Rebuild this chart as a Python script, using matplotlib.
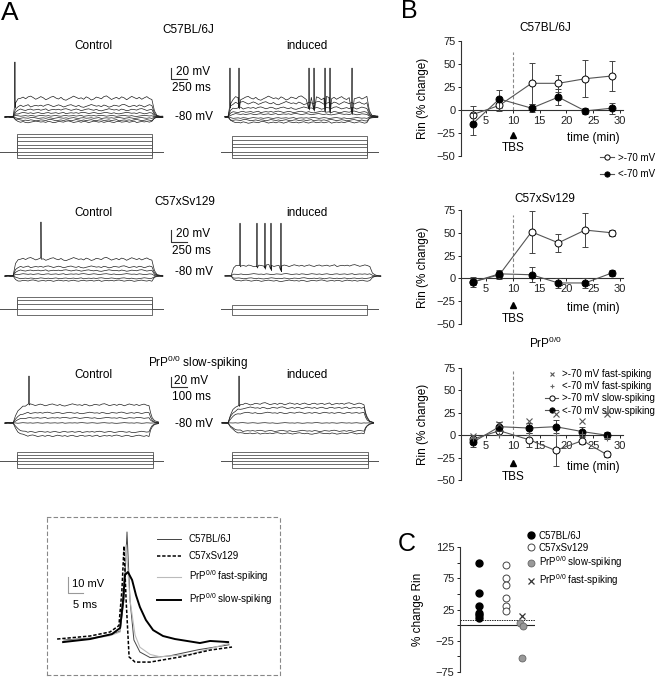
import numpy as np
import matplotlib
matplotlib.use('Agg')
import matplotlib.pyplot as plt

W, H = 657, 677
plt.rcParams['font.family'] = ['Liberation Sans', 'DejaVu Sans']
plt.rcParams['mathtext.default'] = 'regular'

# ---------------- Panel B data (Rin % change vs time) ----------------
b_time = [2.5, 7.5, 13.5, 18.5, 23.5, 28.5]
b1_above = [-5, 5, 29, 29, 34, 37]
b1_above_err = [9, 6, 22, 9, 20, 16]
b1_below = [-15, 12, 2, 14, -1, 2]
b1_below_err = [12, 10, 4, 9, 3, 6]
b2_above = [-4, 4, 51, 39, 53, 50]
b2_above_err = [5, 5, 23, 10, 19, 3]
b2_below = [-4, 5, 4, -5, -5, 6]
b2_below_err = [3, 3, 8, 5, 5, 3]
b3_time = [2.5, 7.5, 13, 18, 23, 27.5]
b3_fast_above = [-1, 12.5, 16, 24, 16, 24]
b3_fast_below = [-3, 0, 0, 0, 1, -3]
b3_slow_above = [-4.5, 5, -5, -17, -6, -21.5]
b3_slow_above_err = [5, 5, 8, 17, 4, 3]
b3_slow_below = [-8, 9.5, 8, 9.5, 4, 0]
b3_slow_below_err = [5, 5, 6, 7, 5, 4]
b_ticks_x = [5, 10, 15, 20, 25, 30]
b_ticks_y = [-50, -25, 0, 25, 50, 75]
tbs_time = 10

# ---------------- Panel C data ----------------
c_labels = ['C57BL/6J', 'C57xSv129', 'PrP$^{0/0}$ slow-spiking', 'PrP$^{0/0}$ fast-spiking']
c_bl6 = [99, 52, 30, 20, 16, 12]
c_sv129 = [97, 75, 64, 43, 30, 22]
c_prp_slow = [3, -2, -53]
c_prp_fast = [14]
c_dotted = 8

# ---------------- Panel A data ----------------
# steady-state deflections (mV from -80 mV), spike times (ms from step onset), spike peaks (mV)
a1_ctrl_levels = [34, 20, 13, 7, 2, -2, -6, -9]
a1_ind_levels = [34, 25, 16, 9, 5, -2, -6, -10]
a1_ctrl_spikes = [30]
a1_ind_spikes = [31, 172, 1266, 1344, 1516, 1594, 1938]
a1_ctrl_peak, a1_ind_peak = 20, 9
a1_ctrl_current = [250, 200, 150, 100, 50, 0, -40, -80]
a1_ind_current = [215, 160, 110, 65, 0, -40, -80]

a2_ctrl_levels = [28, 15, 9, 3, -4, -8]
a2_ind_levels = [17, 3, -4, -8]
a2_ctrl_spikes = [437]
a2_ind_spikes = [141, 406, 531, 625, 781]
a2_ctrl_peak, a2_ind_peak = 10, 8
a2_ctrl_current = [160, 120, 70, 0, -80]
a2_ind_current = [55, 0, -80]

a3_ctrl_levels = [36, 20, 10, 0, -18, -26]
a3_ind_levels = [38, 30, 20, 0, -16, -21]
a3_ctrl_spikes = [100]
a3_ind_spikes = [69]
a3_ctrl_peak, a3_ind_peak = 14, 14
a3_ctrl_current = [120, 80, 40, 0, -40, -95]
a3_ind_current = [120, 80, 40, 0, -40, -95]

# recorded membrane fluctuation template (mV, normalised)
wig = [0.0, 0.5, -0.2, 0.6, 0.9, 0.3, -0.4, 0.1, 0.7, 0.2, -0.6, -0.1,
       0.5, 0.8, 0.1, -0.3, 0.4, -0.5, -0.8, -0.2, 0.3, 0.9, 0.4, -0.1,
       0.2, -0.4, 0.6, 0.1, -0.7, -0.3, 0.5, 0.2, -0.2, 0.7, 1.0, 0.3,
       -0.5, 0.0, 0.4, -0.3, 0.6, 0.2, -0.6, 0.1, 0.8, 0.3, -0.2, 0.4,
       -0.4, 0.2, 0.7, -0.1, -0.5, 0.3, 0.6, -0.2, 0.1, 0.5, -0.3, 0.2,
       0.8, -0.6, 0.0, 0.4]
charge_fast = [0.0, 0.75, 0.92, 1.0]
charge_slow = [0.0, 0.4, 0.65, 0.8, 0.9, 0.95, 1.0]
tail_fast_t, tail_fast_f = [0, 40, 80, 130, 170], [1.0, 0.3, 0.1, 0.03, 0.0]
tail_slow_t, tail_slow_f = [0, 10, 20, 35, 60], [1.0, 0.55, 0.3, 0.12, 0.03]

# spike waveform inset (ms, mV)
sp_bl6_t = [-21, -12, -6, -2.3, -1, 0, 1, 2.3, 4.3, 7.7, 14, 24, 34]
sp_bl6_v = [-60, -58.8, -57, -54.5, -35, 7.5, -35, -60, -67.5, -71, -70, -66, -63]
sp_sv_t = [-23.3, -12.3, -5.7, -2.7, -1.7, -1, -0.3, 0.7, 2.7, 7.7, 17.7, 27.7, 35]
sp_sv_v = [-59.4, -57.5, -55, -51, -29, -1.3, -35, -70.6, -73.8, -73.8, -70.6, -66.3, -64.4]
sp_fast_t = [-21, -12, -6, -2.3, -1.2, -0.3, 1, 2.7, 4.3, 7.7, 11, 21, 34]
sp_fast_v = [-60.5, -59, -57.5, -55, -30, -0.6, -35, -57, -64.5, -69, -70.5, -69, -62]
sp_slow_t = [-21.3, -12.3, -5, -2.3, -1.3, -0.7, 0.3, 1.7, 3, 4.3, 6.3, 8.7, 12, 16, 24.3, 27.7, 33.7]
sp_slow_v = [-61.3, -59.4, -56.3, -52.5, -35, -19.4, -17.5, -22.5, -32, -39.4, -47.5, -53.8, -57.5, -59.4, -61.9, -60.6, -61.3]

fig = plt.figure(figsize=(W / 100, H / 100), dpi=100)
TR = '#1e1e1e'


def px_axes(x0, y0, x1, y1, off=True):
    ax = fig.add_axes([x0 / W, 1 - y1 / H, (x1 - x0) / W, (y1 - y0) / H])
    if off:
        ax.axis('off')
    return ax


def set_map(ax, box, rx, ry, dx, dy, sx, sy):
    x0, y0, x1, y1 = box
    ax.set_xlim(dx + (x0 - rx) / sx, dx + (x1 - rx) / sx)
    ax.set_ylim(dy - (y1 - ry) / sy, dy + (ry - y0) / sy)


def build_trace(level, T, pre_t, tail_t, tail_f, charge, amp, shift):
    w = np.roll(np.asarray(wig, float), shift)
    n = 56
    t_pre = np.asarray(pre_t, float)
    v_pre = 0.45 * amp * w[n:n + len(t_pre)]
    t_step = np.linspace(0, T, n)
    prof = np.ones(n)
    prof[:len(charge)] = charge
    v_step = level * prof + amp * w[:n] * np.minimum(prof + 0.3, 1)
    t_post = T + np.asarray(tail_t[1:], float)
    v_post = level * np.asarray(tail_f[1:]) + 0.45 * amp * w[n + 4:n + 4 + len(t_post)]
    t = np.concatenate([t_pre, t_step, t_post])
    v = np.concatenate([v_pre, v_step, v_post]) - 80
    return t, v


def add_spikes(t, v, times, peak, width):
    for ts in times:
        vb = np.interp(ts, t, v)
        t = np.concatenate([t, [ts - width, ts, ts + width]])
        v = np.concatenate([v, [vb, peak, vb - 2]])
    o = np.argsort(t, kind='stable')
    return t[o], v[o]


def voltage_row(box, ref, sx, sy, T, groups, charge, tail_t, tail_f, amp0, ampk, bar_px):
    ax = px_axes(*box)
    set_map(ax, box, ref[0], ref[1], 0, -80, sx, sy)
    k = 0
    for onset_px, levels, spikes, peak, start_px in groups:
        off = (onset_px - ref[0]) / sx
        pre_len = (onset_px - start_px) / sx
        pre = [-pre_len, -0.66 * pre_len, -0.33 * pre_len]
        for i, L in enumerate(levels):
            t, v = build_trace(L, T, pre, tail_t, tail_f, charge, amp0 + ampk * abs(L), 7 * k + 3)
            if i == 0:
                t, v = add_spikes(t, v, spikes, peak, 0.35 / sx)
            ax.plot(t + off, v, color=TR, lw=0.5)
            k += 1
    bx, by_bot, by_top, blen = bar_px
    bt = (bx - ref[0]) / sx
    vb = -80 + (ref[1] - by_bot) / sy
    vt = -80 + (ref[1] - by_top) / sy
    ax.plot([bt, bt, bt + blen], [vt, vb, vb], color='#333', lw=0.8)
    return ax


def current_row(box, base_y, sx, sy, T, groups):
    ax = px_axes(*box)
    set_map(ax, box, 0, base_y, 0, 0, sx, sy)
    for onset_px, end_line_px, start_line_px, levels in groups:
        off = onset_px / sx
        ta = (start_line_px - onset_px) / sx
        tb = (end_line_px - onset_px) / sx
        for L in levels:
            ax.plot(np.array([ta, 0, 0, T, T, tb]) + off, [0, 0, L, L, 0, 0],
                    color='#555', lw=0.6)
    return ax


def ftext(x, y, s, **kw):
    kw.setdefault('fontsize', 8.5)
    kw.setdefault('ha', 'center')
    kw.setdefault('va', 'center')
    fig.text(x / W, 1 - y / H, s, **kw)


# ---------------- Panel A ----------------
ftext(10, 13, 'A', fontsize=19)
# row 1
voltage_row((0, 50, 385, 132), (13, 117), 0.064, 0.55, 2170,
            [(13, a1_ctrl_levels, a1_ctrl_spikes, a1_ctrl_peak, 5),
             (228, a1_ind_levels, a1_ind_spikes, a1_ind_peak, 225)],
            charge_fast, tail_fast_t, tail_fast_f, 1.0, 0.1, (171, 79, 68, 250))
current_row((0, 125, 385, 165), 152, 0.0622, 0.074, 2170,
            [(17, 163, 0, a1_ctrl_current), (232, 378, 221, a1_ind_current)])
ftext(188, 30, 'C57BL/6J')
ftext(93, 46, 'Control')
ftext(307, 46, 'induced')
ftext(176, 72, '20 mV', ha='left')
ftext(172, 88, '250 ms', ha='left')
ftext(175, 117, '-80 mV', ha='left')
# row 2
voltage_row((0, 215, 385, 292), (13, 276), 0.064, 0.6, 2170,
            [(13, a2_ctrl_levels, a2_ctrl_spikes, a2_ctrl_peak, 5),
             (231, a2_ind_levels, a2_ind_spikes, a2_ind_peak, 225)],
            charge_fast, tail_fast_t, tail_fast_f, 0.8, 0.08, (171, 242, 230, 250))
current_row((0, 292, 385, 320), 309, 0.0622, 0.074, 2170,
            [(17, 163, 0, a2_ctrl_current), (232, 378, 221, a2_ind_current)])
ftext(185, 202, 'C57xSv129')
ftext(93, 213, 'Control')
ftext(307, 213, 'induced')
ftext(176, 234, '20 mV', ha='left')
ftext(172, 251, '250 ms', ha='left')
ftext(175, 272, '-80 mV', ha='left')
# row 3
voltage_row((0, 370, 385, 447), (13, 423), 0.16, 0.5, 850,
            [(13, a3_ctrl_levels, a3_ctrl_spikes, a3_ctrl_peak, 5),
             (228, a3_ind_levels, a3_ind_spikes, a3_ind_peak, 222)],
            charge_slow, tail_slow_t, tail_slow_f, 0.8, 0.05, (171, 387, 377, 100))
current_row((0, 447, 385, 472), 461, 0.16, 0.074, 850,
            [(17, 163, 0, a3_ctrl_current), (232, 378, 221, a3_ind_current)])
ftext(198, 363, 'PrP$^{0/0}$ slow-spiking')
ftext(93, 375, 'Control')
ftext(307, 375, 'induced')
ftext(174, 381, '20 mV', ha='left')
ftext(172, 397, '100 ms', ha='left')
ftext(175, 424, '-80 mV', ha='left')

# ---------------- Inset ----------------
ibox = (47, 517, 280, 675)
axi = px_axes(*ibox, off=False)
set_map(axi, ibox, 127, 640, 0, -60, 3.0, 1.6)
for s in axi.spines.values():
    s.set_linestyle((0, (3, 3)))
    s.set_color('#888')
    s.set_linewidth(0.8)
axi.set_xticks([])
axi.set_yticks([])
l1, = axi.plot(sp_bl6_t, sp_bl6_v, color='#444', lw=0.7)
l3, = axi.plot(sp_fast_t, sp_fast_v, color='#bbbbbb', lw=0.8)
l2, = axi.plot(sp_sv_t, sp_sv_v, color='k', lw=1.1, ls=(0, (2.2, 1.2)))
l4, = axi.plot(sp_slow_t, sp_slow_v, color='k', lw=1.4)
axi.plot([-19.7, -19.7, -14.7], [-20.6, -30.6, -30.6], color='#999', lw=0.8)
ftext(72, 584, '10 mV', ha='left', fontsize=8)
ftext(73, 605, '5 ms', ha='left', fontsize=8)
axi.legend([l1, l2, l3, l4], ['C57BL/6J', 'C57xSv129', 'PrP$^{0/0}$ fast-spiking',
                              'PrP$^{0/0}$ slow-spiking'],
           loc='upper left', bbox_to_anchor=(0.47, 0.89), frameon=False, fontsize=7,
           handlelength=2.5, handletextpad=0.8, labelspacing=0.72, borderaxespad=0,
           borderpad=0)

# ---------------- Panel B ----------------
ftext(409, 11, 'B', fontsize=18)


def b_axes(top, bottom, title, title_y, tbs_top, tri_y, tbs_y, time_y):
    ax = fig.add_axes([461 / W, 1 - bottom / H, 162 / W, (bottom - top) / H])
    ax.set_xlim(0.34, 30.56)
    ax.set_ylim(-50, 75)
    for s in ['top', 'right']:
        ax.spines[s].set_visible(False)
    ax.spines['bottom'].set_position(('data', 0))
    ax.spines['left'].set_bounds(-50, 75)
    for s in ['bottom', 'left']:
        ax.spines[s].set_linewidth(0.8)
        ax.spines[s].set_color('#333')
    ax.set_xticks(b_ticks_x)
    ax.set_yticks(b_ticks_y)
    ax.tick_params(labelsize=8, length=2.5, width=0.7, pad=1.5, colors='#222')
    ax.patch.set_alpha(0)
    ax.set_ylabel('Rin (% change)', fontsize=8.5)
    ax.yaxis.set_label_coords(-0.2, 0.5)
    ax.text(0.52, 1 + (top - title_y) / (bottom - top), title, transform=ax.transAxes,
            ha='center', va='center', fontsize=8.5)
    ax.vlines(tbs_time, 0, tbs_top, colors='#888', linestyles=(0, (3, 2)), lw=0.8)
    ax.plot([tbs_time], [tri_y], marker='^', color='k', ms=5, ls='none')
    ax.text(tbs_time, tbs_y, 'TBS', ha='center', va='center', fontsize=8.5)
    ax.text(25, time_y, 'time (min)', ha='center', va='center', fontsize=8.5)
    return ax


def series(ax, x, y, err, filled, z):
    if err is not None:
        ax.errorbar(x, y, yerr=err, fmt='none', ecolor='#444', elinewidth=0.7,
                    capsize=2, capthick=0.7, zorder=z)
    return ax.plot(x, y, color='#555', lw=0.8, marker='o', ms=5,
                   mfc='k' if filled else 'white', mec='k', mew=0.7, zorder=z + 1)[0]


ax1 = b_axes(41, 156, 'C57BL/6J', 28, 63, -27, -41, -30)
h_a = series(ax1, b_time, b1_above, b1_above_err, False, 3)
h_b = series(ax1, b_time, b1_below, b1_below_err, True, 5)
ax1.legend([h_a, h_b], ['>-70 mV', '<-70 mV'], loc='upper left',
           bbox_to_anchor=(0.855, 0.03), frameon=False, fontsize=7, handlelength=1.45,
           handletextpad=0.5, labelspacing=0.7, borderaxespad=0, borderpad=0,
           markerscale=0.75)

ax2 = b_axes(210, 324, 'C57xSv129', 199, 70, -29, -44, -33)
series(ax2, b_time, b2_above, b2_above_err, False, 3)
series(ax2, b_time, b2_below, b2_below_err, True, 5)

ax3 = b_axes(368, 480, 'PrP$^{0/0}$', 343, 72, -31, -47, -35)
hf1, = ax3.plot(b3_time, b3_fast_above, ls='none', marker='x', ms=4, mec='#555', mew=0.8, zorder=6)
hf2, = ax3.plot(b3_time, b3_fast_below, ls='none', marker='+', ms=4.5, mec='#666', mew=0.8, zorder=6)
hs1 = series(ax3, b3_time, b3_slow_above, b3_slow_above_err, False, 3)
hs2 = series(ax3, b3_time, b3_slow_below, b3_slow_below_err, True, 4)
ax3.legend([hf1, hf2, hs1, hs2],
           ['>-70 mV fast-spiking', '<-70 mV fast-spiking', '>-70 mV slow-spiking',
            '<-70 mV slow-spiking'],
           loc='upper left', bbox_to_anchor=(0.52, 0.99), frameon=False, fontsize=7,
           handlelength=1.35, handletextpad=0.4, labelspacing=0.22, borderaxespad=0,
           borderpad=0, markerscale=0.75)

# ---------------- Panel C ----------------
ftext(407, 544, 'C', fontsize=18)
axc = fig.add_axes([460 / W, 1 - 672 / H, 75 / W, 125 / H])
axc.set_xlim(0, 2.78)
axc.set_ylim(-75, 125)
for s in ['top', 'right', 'bottom']:
    axc.spines[s].set_visible(False)
axc.spines['left'].set_linewidth(0.8)
axc.spines['left'].set_color('#333')
axc.set_xticks([])
axc.set_yticks([-75, -25, 25, 75, 125])
axc.set_yticks([-50, 0, 50, 100], minor=True)
axc.tick_params(axis='y', which='both', labelsize=8, length=2.5, width=0.7, pad=1.5, colors='#222')
axc.patch.set_alpha(0)
axc.set_ylabel('% change Rin', fontsize=8.5)
axc.yaxis.set_label_coords(-0.48, 0.5)
axc.axhline(0, color='#222', lw=0.8)
axc.axhline(c_dotted, color='#222', lw=0.7, ls=(0, (1.5, 1)))
hc1, = axc.plot([0.7] * len(c_bl6), c_bl6, ls='none', marker='o', ms=5, mfc='k', mec='k')
hc2, = axc.plot([1.7] * len(c_sv129), c_sv129, ls='none', marker='o', ms=5, mfc='white',
                mec='#444', mew=0.7)
hc3, = axc.plot([2.22, 2.33, 2.3], c_prp_slow, ls='none', marker='o', ms=5, mfc='#999',
                mec='#666', mew=0.6)
hc4, = axc.plot([2.3] * len(c_prp_fast), c_prp_fast, ls='none', marker='x', ms=4,
                mec='#333', mew=0.9)
axc.legend([hc1, hc2, hc3, hc4], c_labels, loc='upper left', bbox_to_anchor=(0.9, 1.13),
           frameon=False, fontsize=7, handlelength=0.8, handletextpad=0.35,
           labelspacing=0.2, borderaxespad=0, borderpad=0)

fig.savefig('out.png', dpi=100)
